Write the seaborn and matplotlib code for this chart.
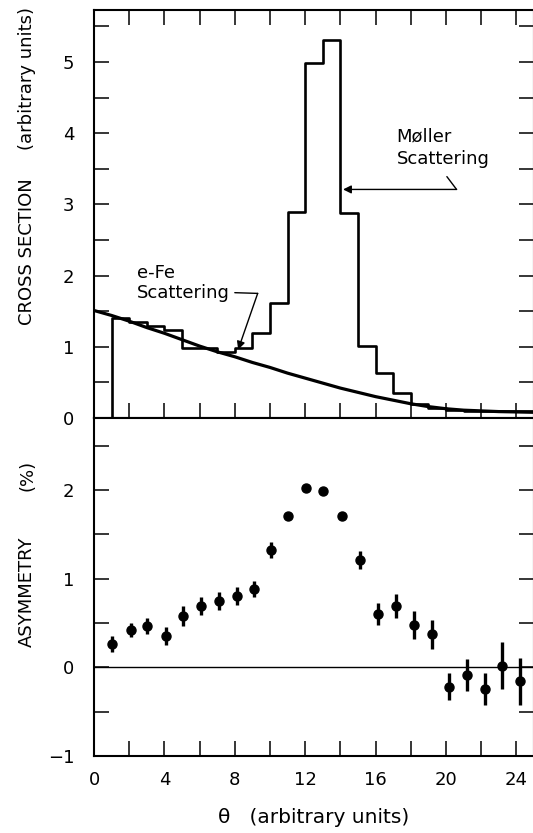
import numpy as np
import pandas as pd
import seaborn as sns
import matplotlib
matplotlib.use("Agg")
import matplotlib.pyplot as plt

# cross section histogram, bins of width 1 starting at theta = 1
bin_edges = np.arange(1, 26)
moller_counts = [1.40, 1.35, 1.29, 1.24, 0.98, 0.98, 0.93, 0.98, 1.19, 1.61,
                 2.90, 4.98, 5.31, 2.88, 1.01, 0.63, 0.35, 0.20, 0.14, 0.11,
                 0.10, 0.10, 0.10, 0.10]

# e-Fe scattering curve, read at integer theta
curve_x = np.arange(0, 26)
curve_y = [1.51, 1.44, 1.36, 1.27, 1.19, 1.10, 1.01, 0.93, 0.86, 0.78, 0.71,
           0.63, 0.56, 0.49, 0.42, 0.36, 0.30, 0.25, 0.20, 0.16, 0.13, 0.11,
           0.10, 0.09, 0.085, 0.08]

# asymmetry points
asym_x = [1.05, 2.08, 3.02, 4.08, 5.07, 6.07, 7.09, 8.1, 9.08, 10.08, 11.03, 12.07,
          13.02, 14.09, 15.14, 16.14, 17.18, 18.17, 19.2, 20.15, 21.19, 22.2, 23.2, 24.22]
asym_y = [0.26, 0.42, 0.47, 0.35, 0.58, 0.69, 0.75, 0.80, 0.88, 1.32, 1.70, 2.02,
          1.99, 1.71, 1.21, 0.60, 0.69, 0.48, 0.37, -0.22, -0.09, -0.25, 0.02, -0.16]
asym_err = [0.09, 0.08, 0.09, 0.10, 0.11, 0.10, 0.10, 0.10, 0.09, 0.09, 0.04, 0.03,
            0.03, 0.04, 0.10, 0.12, 0.14, 0.16, 0.165, 0.15, 0.18, 0.18, 0.27, 0.27]

sns.set_theme(style="ticks")
plt.rcParams["font.family"] = ["DejaVu Sans"]
plt.rcParams["axes.linewidth"] = 1.5
plt.rcParams["text.color"] = "black"
plt.rcParams["axes.labelcolor"] = "black"

fig = plt.figure(figsize=(5.33, 8.33), dpi=100)
ax1 = fig.add_axes([94 / 533, 1 - 418 / 833, 440 / 533, 408 / 833])
ax2 = fig.add_axes([94 / 533, 1 - 756 / 833, 440 / 533, 338 / 833])

# histogram as a step line (vertical rise at theta = 1)
hist_df = pd.DataFrame({"theta": bin_edges, "xs": [0.0] + moller_counts})
sns.lineplot(data=hist_df, x="theta", y="xs", ax=ax1, color="black",
             lw=1.9, drawstyle="steps-pre", sort=False)

curve_df = pd.DataFrame({"theta": curve_x, "xs": curve_y})
sns.lineplot(data=curve_df, x="theta", y="xs", ax=ax1, color="black", lw=2.3)

ax1.set_xlim(0, 25)
ax1.set_ylim(0, 5.73)
ax1.set_xlabel("")
ax1.set_ylabel("")
ax1.set_xticks(np.arange(2, 25, 2))
ax1.set_xticklabels([])
yt1 = np.arange(0, 5.6, 0.5)
ax1.set_yticks(yt1)
ax1.set_yticklabels([f"{int(v)}" if v == int(v) else "" for v in yt1])
ax1.tick_params(axis="both", which="both", direction="in", length=11, width=1.1,
                top=True, right=True, labelsize=13, pad=14, colors="black")

ax1.text(17.2, 4.08, "Møller\nScattering", fontsize=13, ha="left", va="top",
         linespacing=1.3)
ax1.plot([20.05, 20.6], [3.39, 3.21], color="black", lw=1.0)
ax1.annotate("", xy=(14.15, 3.21), xytext=(20.6, 3.21),
             arrowprops=dict(arrowstyle="-|>", color="black", lw=1.0,
                             mutation_scale=12, shrinkA=0, shrinkB=0))

ax1.text(2.44, 2.16, "e-Fe\nScattering", fontsize=13, ha="left", va="top",
         linespacing=1.15)
ax1.plot([8.0, 9.3], [1.76, 1.75], color="black", lw=1.0)
ax1.annotate("", xy=(8.19, 0.96), xytext=(9.3, 1.75),
             arrowprops=dict(arrowstyle="-|>", color="black", lw=1.0,
                             mutation_scale=12, shrinkA=0, shrinkB=0))

# asymmetry panel
ax2.axhline(0, color="black", lw=1.0)
ax2.errorbar(asym_x, asym_y, yerr=asym_err, fmt="o", color="black", ms=6.5,
             elinewidth=2.4, capsize=0)
ax2.set_xlim(0, 25)
ax2.set_ylim(-1, 2.81)
xt2 = np.arange(0, 25, 2)
ax2.set_xticks(xt2)
ax2.set_xticklabels([f"{v}" if v % 4 == 0 else "" for v in xt2])
yt2 = np.arange(-1, 2.6, 0.5)
ax2.set_yticks(yt2)
ax2.set_yticklabels([f"{int(v)}".replace("-", "\u2212") if v == int(v) else "" for v in yt2])
ax2.tick_params(axis="both", which="both", direction="in", length=11, width=1.1,
                top=False, right=True, labelsize=13, colors="black")
ax2.tick_params(axis="y", pad=14)
ax2.tick_params(axis="x", pad=11)
ax2.set_xlabel("\u03b8   (arbitrary units)", fontsize=14.5)
ax2.xaxis.label.set_va("center")
ax2.xaxis.set_label_coords(0.5, -0.183)

for ax in (ax1, ax2):
    for s in ax.spines.values():
        s.set_linewidth(1.5)
        s.set_color("black")

# rotated y labels
fig.text(27 / 533, 1 - 252 / 833, "CROSS SECTION", rotation=90, fontsize=13,
         ha="center", va="center")
fig.text(27 / 533, 1 - 78 / 833, "(arbitrary units)", rotation=90, fontsize=13,
         ha="center", va="center")
fig.text(27 / 533, 1 - 592 / 833, "ASYMMETRY", rotation=90, fontsize=13,
         ha="center", va="center")
fig.text(27 / 533, 1 - 475 / 833, "(%)", rotation=90, fontsize=13,
         ha="center", va="center")

fig.savefig("out.png", dpi=100)
